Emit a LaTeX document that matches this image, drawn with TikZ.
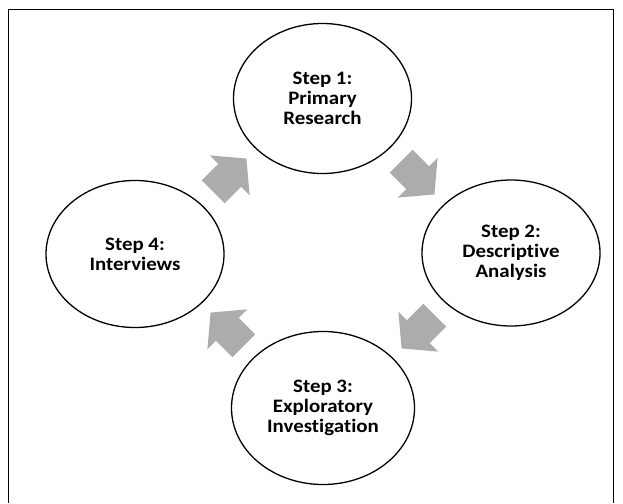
\documentclass[tikz,border=0pt]{standalone}
\usepackage{fontspec}
\newfontfamily\stepfont[FakeStretch=1.1,Ligatures=NoCommon]{Carlito}
\usetikzlibrary{shapes.geometric,shapes.arrows}

\tikzset{
  stepcircle/.style={draw, line width=1.3pt, ellipse, minimum width=178pt, minimum height=150pt,
    align=center, font=\stepfont\bfseries\fontsize{19}{20}\selectfont},
  blockarrow/.style={single arrow, fill=gray!65, draw=none, inner xsep=0pt, inner ysep=16pt,
    minimum height=47pt, single arrow head extend=12pt, single arrow tip angle=100}
}

\begin{document}
\begin{tikzpicture}[x=1pt,y=-1pt]
  \useasboundingbox (0,0) rectangle (623,503);
  \draw[line width=1.2pt] (8.7,503) -- (8.7,9.3) -- (613.8,9.3) -- (613.8,503);

  \node[stepcircle] (s1) at (322.5,98.5) {Step 1:\\Primary\\Research};
  \node[stepcircle, minimum height=146pt] (s2) at (511,253) {Step 2:\\Descriptive\\Analysis};
  \node[stepcircle, minimum width=183pt, minimum height=153pt] (s3) at (323,408) {Step 3:\\Exploratory\\Investigation};
  \node[stepcircle, minimum height=147pt] (s4) at (135,254) {Step 4:\\Interviews};

  % block arrows between the steps
  \node[blockarrow, rotate=45] (a41) at (225,180) {};
  \node[blockarrow, rotate=-45] (a12) at (413,173) {};
  \node[blockarrow, rotate=-135] (a23) at (423,327) {};
  \node[blockarrow, rotate=135] (a34) at (232,334) {};
\end{tikzpicture}
\end{document}
